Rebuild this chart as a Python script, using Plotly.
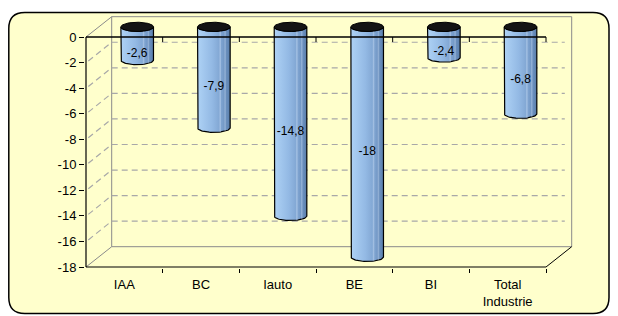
import numpy as np
import plotly.graph_objects as go

# ---------------- data ----------------
categories = ["IAA", "BC", "Iauto", "BE", "BI", "Total Industrie"]
values = [-2.6, -7.9, -14.8, -18, -2.4, -6.8]
value_labels = ["-2,6", "-7,9", "-14,8", "-18", "-2,4", "-6,8"]
y_ticks = [0, -2, -4, -6, -8, -10, -12, -14, -16, -18]
y_tick_labels = [str(t) for t in y_ticks]

# ---------------- geometry (page px; page body has an 8px margin) ----------------
OFF = 8
W, H = 618 - 2 * OFF, 316 - OFF
PL, PR, PT, PB = 85, 573, 16, 268          # plot area in page px
ML, MR, MT, MB = PL - OFF, W - (PR - OFF), PT - OFF, H - (PB - OFF)
PW, PH = W - ML - MR, H - MT - MB
PXU = (546 - 86) / 6.0          # px per category unit
PYU = (267 - 37) / 18.0         # px per value unit
DX = 25.7 / PXU                 # depth offset (x, data units)
DY = 20.3 / PYU                 # depth offset (y, data units)
X0 = -0.5 - (86 - PL) / PXU
X1 = X0 + PW / PXU
Y0 = -18 - (PB - 267) / PYU
Y1 = Y0 + PH / PYU
YMIN = min(y_ticks)
NCAT = len(categories)
RX = 16.3 / PXU
RY = 4.6 / PYU

FONT = "Liberation Sans, Arial, sans-serif"
GRAY = "#8a8a8a"
DASH = "#a8a8a8"

fig = go.Figure()
shapes = []


def seg(xa, ya, xb, yb, color, width=1, dash=None, layer="below", xref="x", yref="y"):
    shapes.append(dict(type="line", x0=xa, y0=ya, x1=xb, y1=yb, xref=xref, yref=yref,
                       layer=layer, line=dict(color=color, width=width, dash=dash)))


# rounded background panel (paper coords)
def P(px, py):
    x = (px - PL) / PW
    y = (PB - py) / PH
    return f"{x:.5f},{y:.5f}"

bx0, by0, bx1, by1, r = 8.8, 12.5, 609.0, 313.5, 16
path = (f"M {P(bx0 + r, by0)} L {P(bx1 - r, by0)} Q {P(bx1, by0)} {P(bx1, by0 + r)} "
        f"L {P(bx1, by1 - r)} Q {P(bx1, by1)} {P(bx1 - r, by1)} "
        f"L {P(bx0 + r, by1)} Q {P(bx0, by1)} {P(bx0, by1 - r)} "
        f"L {P(bx0, by0 + r)} Q {P(bx0, by0)} {P(bx0 + r, by0)} Z")
shapes.append(dict(type="path", path=path, xref="paper", yref="paper", layer="below",
                   fillcolor="#FFFFCC", line=dict(color="black", width=1.5)))

# back wall & side walls frame
xl, xr = -0.5, NCAT - 0.5
seg(xl + DX, DY, xr + DX, DY, GRAY)
seg(xl + DX, DY, xl + DX, YMIN + DY, GRAY)
seg(xr + DX, DY, xr + DX, YMIN + DY, GRAY)
seg(xl + DX, YMIN + DY, xr + DX, YMIN + DY, GRAY)
seg(xl, 0, xl + DX, DY, GRAY)
seg(xl, YMIN, xl + DX, YMIN + DY, GRAY)
seg(xr, YMIN, xr + DX, YMIN + DY, "black")

# dashed gridlines on back wall and left wall
for t in y_ticks:
    if t == 0 or t == YMIN:
        continue
    seg(xl + DX, t + DY, xr + DX - 0.09, t + DY, DASH, 1.2, "6px,4px")
    seg(xl + 0.03, t + 0.12, xl + DX, t + DY, DASH, 1.2, "6px,4px")

# ---------------- cylinders ----------------
body_scale = [[0, "#AED2F5"], [0.45, "#93B9E4"], [0.75, "#7CA1CE"], [1, "#5A7FAD"]]
for i, v in enumerate(values):
    c = i + DX / 2
    yt = DY / 2
    yb = v + DY / 2
    tb = np.linspace(np.pi, 2 * np.pi, 40)
    tt = np.linspace(0, -np.pi, 40)
    bx = np.concatenate([[c - RX], c + RX * np.cos(tb), [c + RX], c + RX * np.cos(tt)])
    by = np.concatenate([[yt], yb + RY * np.sin(tb), [yt], yt + RY * np.sin(tt)])
    fig.add_trace(go.Scatter(x=bx, y=by, mode="lines", fill="toself",
                             fillgradient=dict(type="horizontal", colorscale=body_scale),
                             line=dict(color="black", width=1.2),
                             hoverinfo="skip", showlegend=False))
    for f, a in [(0.39, 0.35), (0.69, 0.3)]:
        fig.add_trace(go.Scatter(x=[c + f * RX, c + f * RX],
                                 y=[yt - RY * np.sqrt(1 - f * f), yb - RY * np.sqrt(1 - f * f)],
                                 mode="lines", line=dict(color=f"rgba(220,235,255,{a})", width=1.5),
                                 hoverinfo="skip", showlegend=False))
    te = np.linspace(0, 2 * np.pi, 80)
    fig.add_trace(go.Scatter(x=c + RX * np.cos(te), y=yt + RY * np.sin(te), mode="lines",
                             fill="toself", fillcolor="#141414",
                             line=dict(color="black", width=1),
                             hoverinfo="skip", showlegend=False))

# value labels
fig.add_trace(go.Scatter(x=[i + DX / 2 for i in range(NCAT)], y=[v / 2 for v in values],
                         mode="text", text=value_labels,
                         textfont=dict(family=FONT, size=12, color="black"),
                         hoverinfo="skip", showlegend=False, cliponaxis=False))

# front axis lines (on top)
seg(xl, 0, xl, YMIN, "black", 1.2, layer="above")
seg(xl, 0, xr, 0, "black", 1.5, layer="above")
seg(xl, YMIN, xr, YMIN, "black", 1.2, layer="above")
for k in range(NCAT):
    seg(k + 0.5, 0, k + 0.5, -5 / PYU, "black", 1, layer="above")

fig.update_layout(
    width=W, height=H, autosize=False,
    margin=dict(l=ML, r=MR, t=MT, b=MB, pad=0, autoexpand=False),
    paper_bgcolor="white", plot_bgcolor="rgba(0,0,0,0)",
    shapes=shapes,
    font=dict(family=FONT, size=12, color="black"),
    xaxis=dict(range=[X0, X1], showgrid=False, zeroline=False, showline=False, automargin=False,
               tickmode="array", tickvals=list(range(NCAT)),
               ticktext=[c.replace(" ", "<br>") for c in categories],
               ticks="", tickfont=dict(size=13), ticklabelstandoff=7),
    xaxis2=dict(range=[X0, X1], overlaying="x", side="bottom", showgrid=False, zeroline=False,
                showline=False, automargin=False, tickmode="array",
                tickvals=[k + 0.5 for k in range(NCAT)],
                ticks="outside", ticklen=4, tickcolor="black", showticklabels=False),
    yaxis=dict(range=[Y0, Y1], showgrid=False, zeroline=False, showline=False, automargin=False,
               tickmode="array", tickvals=y_ticks, ticktext=y_tick_labels,
               ticks="outside", ticklen=5, tickcolor="black", tickfont=dict(size=13)),
)
fig.add_trace(go.Scatter(x=[X0], y=[Y0], xaxis="x2", mode="markers",
                         marker=dict(opacity=0), hoverinfo="skip", showlegend=False))

fig.write_html("out.html")
